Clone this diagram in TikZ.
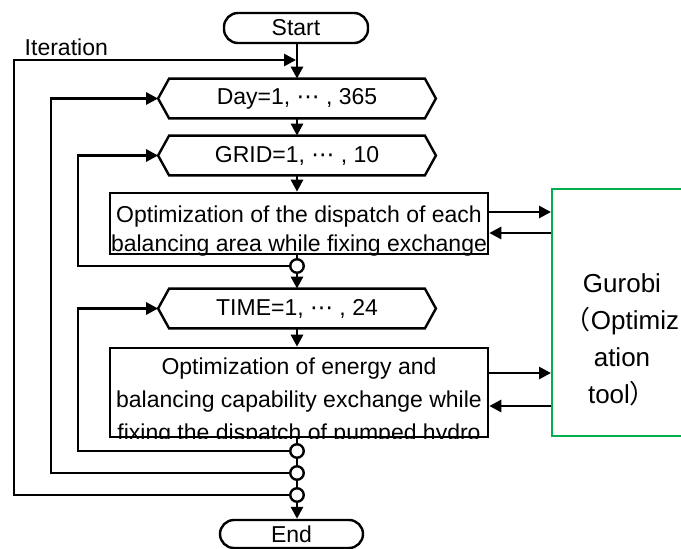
\documentclass[tikz,border=0pt]{standalone}
\usepackage{fontspec}
\setmainfont{Liberation Sans}
\newfontfamily\dv{DejaVu Sans}
\newfontfamily\cjk{Noto Sans CJK JP}
\usetikzlibrary{arrows.meta,calc}
\definecolor{gurgreen}{RGB}{0,176,80}
\begin{document}
\begin{tikzpicture}[x=1pt,y=-1pt, line width=2.8pt,
  arr/.style={-{Triangle[length=12pt,width=12pt]}},
  term/.style={draw, line width=2.4pt, rounded corners=14pt, minimum width=144pt, minimum height=30pt, inner sep=0pt},
  hexn/.style={minimum width=253pt, minimum height=37pt, inner sep=0pt},
  boxn/.style={draw, line width=2.6pt, inner sep=0pt},
  conn/.style={draw, line width=2.4pt, circle, minimum size=13.5pt, inner sep=0pt, fill=white},
  txt/.style={font=\fontsize{23}{28}\selectfont}]
\clip (0,0) rectangle (681,549);
% terminals
\node[term, txt] (start) at (296,28) {Start};
\node[term, txt, minimum width=143pt, minimum height=28pt] (end) at (291.5,534) {End};
% hexagons
\node[hexn, txt] (day) at (297,98.5) {Day=1, {\dv ⋯} , 365};
\node[hexn, txt] (grid) at (297,155.5) {GRID=1, {\dv ⋯} , 10};
\node[hexn, txt] (time) at (297,308.5) {TIME=1, {\dv ⋯} , 24};
\foreach \n in {day,grid,time}
  \draw[line width=2.4pt] (\n.north west) -- (\n.north east) -- ([xshift=11pt]\n.east) -- (\n.south east)
        -- (\n.south west) -- ([xshift=-11pt]\n.west) -- cycle;
% process boxes
\node[boxn, minimum width=378pt, minimum height=61pt] (b1) at (299,223.5) {};
\node[boxn, minimum width=378pt, minimum height=89pt] (b2) at (299,392.5) {};
\begin{scope}
  \clip (b1.north west) rectangle (b1.south east);
  \node[txt, anchor=base] (b1a) at (299,222) {Optimization of the dispatch of each};
  \node[txt, anchor=base] (b1b) at (299,251) {balancing area while fixing exchange};
\end{scope}
\begin{scope}
  \clip (b2.north west) rectangle (b2.south east);
  \node[txt, anchor=base] (b2a) at (299,374) {Optimization of energy and};
  \node[txt, anchor=base] (b2b) at (299,407) {balancing capability exchange while};
  \node[txt, anchor=base] (b2c) at (299,440) {fixing the dispatch of pumped hydro};
\end{scope}
% connectors circles
\node[conn] (c1) at (297,266) {};
\node[conn] (c2) at (297,451) {};
\node[conn] (c3) at (297,473) {};
\node[conn] (c4) at (297,495) {};
% Gurobi
\node[draw=gurgreen, line width=1.8pt, minimum width=170pt, minimum height=247pt, inner sep=0pt, anchor=north west] (g) at (551,188) {};
\node[font=\fontsize{26}{37}\selectfont, align=center] (gt) at (622,340) {Gurobi\\{\cjk （}Optimiz\\ation\\tool{\cjk ）}};
% label
\node[txt, anchor=base west] (iter) at (20,55) {Iteration};
% main flow
\coordinate (L0) at (14,0);
\coordinate (L1) at (51,0);
\coordinate (L2) at (78,0);
\coordinate (it) at (296,60);
\draw[arr] (start.south -| day.north) -- (day.north);
\draw[arr] (day.south) -- (grid.north);
\draw[arr] (grid.south) -- (grid.south |- b1.north);
\draw (b1.south -| c1.north) -- (c1.north);
\draw[arr] (c1.south) -- (time.north);
\draw[arr] (time.south) -- (time.south |- b2.north);
\draw (b2.south -| c2.north) -- (c2.north);
\draw (c2.south) -- (c3.north);
\draw (c3.south) -- (c4.north);
\draw[arr] (c4.south) -- (c4.south |- end.north);
% loops
\draw[arr] (c4.west) -- (c4.west -| L0) |- (it);
\draw[arr] (c3.west) -- (c3.west -| L1) |- ([xshift=-11pt]day.west);
\draw[arr] (c2.west) -- (c2.west -| L2) |- ([xshift=-11pt]time.west);
\draw[arr] (c1.west) -- (c1.west -| L2) |- ([xshift=-11pt]grid.west);
% solver links
\draw[arr] (b1.east |- 0,212) -- (g.west |- 0,212);
\draw[arr] (g.west |- 0,233) -- (b1.east |- 0,233);
\draw[arr] (b2.east |- 0,373) -- (g.west |- 0,373);
\draw[arr] (g.west |- 0,406) -- (b2.east |- 0,406);
\end{tikzpicture}
\end{document}
